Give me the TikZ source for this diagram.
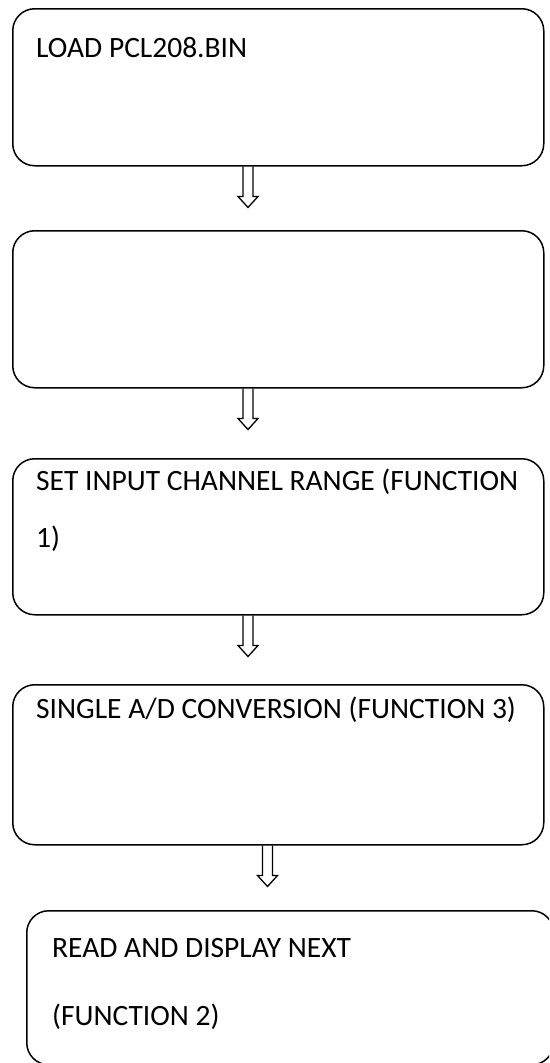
\documentclass[tikz,border=0pt]{standalone}
\usepackage{fontspec}
\setmainfont{Carlito}
\begin{document}
\begin{tikzpicture}[x=1pt,y=-1pt,
  box/.style={draw, line width=1.5pt, rounded corners=22pt, inner sep=0pt, anchor=north west},
  lbl/.style={anchor=base west, inner sep=0pt, font=\fontsize{29.5}{34}\selectfont},
  dblarrow/.style={line width=1.3pt}
]
\useasboundingbox (0,0) rectangle (549,1063);
\clip (0,0) rectangle (549,1063);
% boxes
\node[box, minimum width=531pt, minimum height=157pt] (b1) at (12,8) {};
\node[box, minimum width=531pt, minimum height=157pt] (b2) at (12,230) {};
\node[box, minimum width=531pt, minimum height=156pt] (b3) at (12,458) {};
\node[box, minimum width=531pt, minimum height=160pt] (b4) at (12,684) {};
\node[box, minimum width=527pt, minimum height=154pt] (b5) at (26,910) {};
% texts
\node[lbl] (t1) at (36,57) {LOAD PCL208.BIN};
\node[lbl] (t3a) at (36,490) {SET INPUT CHANNEL RANGE (FUNCTION};
\node[lbl] (t3b) at (36,547) {1)};
\node[lbl] (t4) at (36,718) {SINGLE A/D CONVERSION (FUNCTION 3)};
\node[lbl] (t5a) at (52,957) {READ AND DISPLAY NEXT};
\node[lbl] (t5b) at (52,1025) {(FUNCTION 2)};
% arrows
\coordinate (a1) at (b1.south -| 248,0);
\coordinate (a2) at (b2.south -| 248,0);
\coordinate (a3) at (b3.south -| 248,0);
\coordinate (a4) at (b4.south -| 267.5,0);
\foreach \a in {a1,a2,a3,a4}{
  \draw[dblarrow] (\a) ++(-5,0) -- ++(0,30) -- ++(-5,0) -- ++(10,11) -- ++(10,-11) -- ++(-5,0) -- ++(0,-30);
}
\end{tikzpicture}
\end{document}
